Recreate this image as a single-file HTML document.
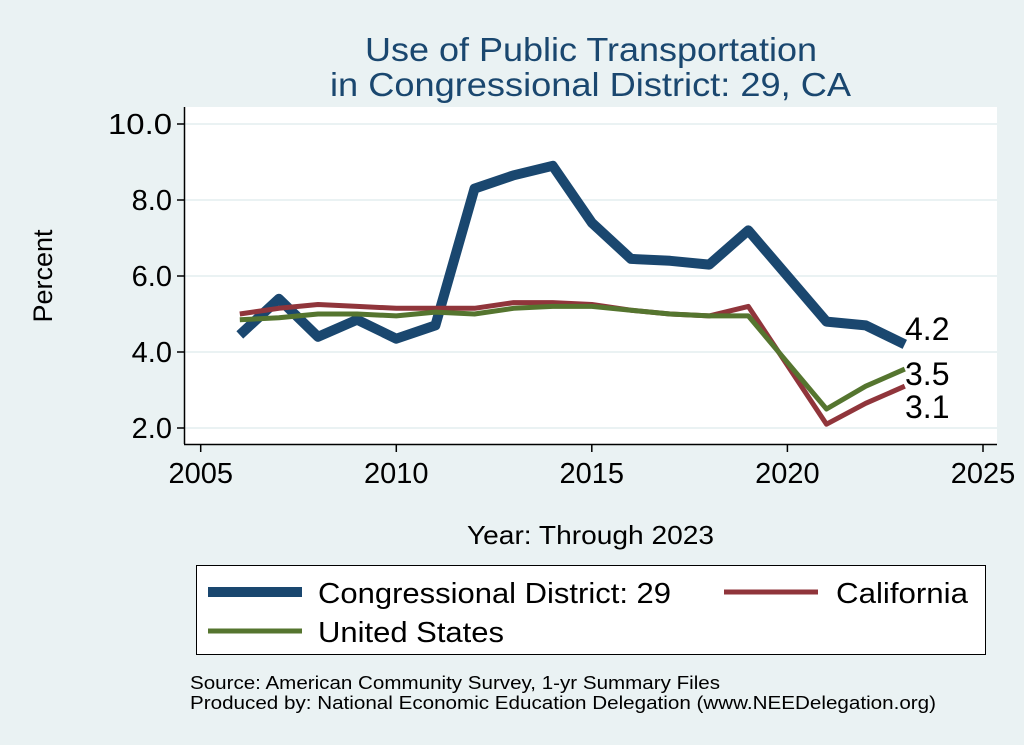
<!DOCTYPE html>
<html><head><meta charset="utf-8"><style>
body{margin:0;background:#eaf2f3;}
svg{display:block;font-family:"Liberation Sans",sans-serif;}
</style></head><body>
<svg width="1024" height="745" viewBox="0 0 1024 745">
<rect width="1024" height="745" fill="#eaf2f3"/>
<text x="365" y="61" font-size="33" fill="#1a476f" textLength="452" lengthAdjust="spacingAndGlyphs">Use of Public Transportation</text>
<text x="330" y="96" font-size="33" fill="#1a476f" textLength="521" lengthAdjust="spacingAndGlyphs">in Congressional District: 29, CA</text>
<rect x="185" y="107" width="812" height="337" fill="#fff"/>
<g stroke="#eaf2f3" stroke-width="2">
<line x1="185" x2="997" y1="124" y2="124"/><line x1="185" x2="997" y1="200" y2="200"/>
<line x1="185" x2="997" y1="276" y2="276"/><line x1="185" x2="997" y1="352" y2="352"/>
<line x1="185" x2="997" y1="428" y2="428"/>
</g>
<g stroke="#000" stroke-width="1.5">
<line x1="184.5" y1="107" x2="184.5" y2="444"/><line x1="184" y1="444.5" x2="997" y2="444.5"/>
<line x1="177" x2="184" y1="124" y2="124"/><line x1="177" x2="184" y1="200" y2="200"/>
<line x1="177" x2="184" y1="276" y2="276"/><line x1="177" x2="184" y1="352" y2="352"/>
<line x1="177" x2="184" y1="428" y2="428"/>
<line x1="200.7" x2="200.7" y1="444" y2="452"/><line x1="396.3" x2="396.3" y1="444" y2="452"/>
<line x1="591.8" x2="591.8" y1="444" y2="452"/><line x1="787.4" x2="787.4" y1="444" y2="452"/>
<line x1="983" x2="983" y1="444" y2="452"/>
</g>
<g font-size="29" text-anchor="end" fill="#000">
<text x="172" y="134" textLength="64" lengthAdjust="spacingAndGlyphs">10.0</text><text x="172" y="210">8.0</text><text x="172" y="286">6.0</text>
<text x="172" y="362">4.0</text><text x="172" y="438">2.0</text>
</g>
<g font-size="29" text-anchor="middle" fill="#000">
<text x="200.7" y="483">2005</text><text x="396.3" y="483">2010</text><text x="591.8" y="483">2015</text>
<text x="787.4" y="483">2020</text><text x="983" y="483">2025</text>
</g>
<text x="52" y="276" font-size="27" text-anchor="middle" transform="rotate(-90 52 276)">Percent</text>
<text x="467" y="544" font-size="26" textLength="247" lengthAdjust="spacingAndGlyphs">Year: Through 2023</text>
<g id="lines" fill="none" stroke-linejoin="round"></g>
<text x="905" y="340" font-size="32">4.2</text>
<text x="905" y="385" font-size="32">3.5</text>
<text x="905" y="418" font-size="32">3.1</text>
<rect x="196.5" y="565.5" width="789" height="89" fill="#fff" stroke="#000" stroke-width="1"/>
<line x1="208" x2="302" y1="592" y2="592" stroke="#1a476f" stroke-width="10"/>
<text x="318" y="603" font-size="29" textLength="353" lengthAdjust="spacingAndGlyphs">Congressional District: 29</text>
<line x1="724" x2="818" y1="592" y2="592" stroke="#90353b" stroke-width="5"/>
<text x="836" y="603" font-size="29" textLength="132" lengthAdjust="spacingAndGlyphs">California</text>
<line x1="208" x2="302" y1="631" y2="631" stroke="#55752f" stroke-width="5"/>
<text x="318" y="642" font-size="29" textLength="186" lengthAdjust="spacingAndGlyphs">United States</text>
<text x="190" y="689" font-size="18" textLength="530" lengthAdjust="spacingAndGlyphs">Source: American Community Survey, 1-yr Summary Files</text>
<text x="190" y="709" font-size="18" textLength="746" lengthAdjust="spacingAndGlyphs">Produced by: National Economic Education Delegation (www.NEEDelegation.org)</text>
</svg>
<script>
var X=function(y){return 200.7+(y-2005)*39.115},Y=function(v){return 428-(v-2)*38};
var yrs=[2006,2007,2008,2009,2010,2011,2012,2013,2014,2015,2016,2017,2018,2019,2021,2022,2023];
var cd=[4.45,5.4,4.4,4.85,4.35,4.7,8.3,8.65,8.9,7.4,6.45,6.4,6.3,7.2,4.8,4.7,4.2];
var ca=[5.0,5.15,5.25,5.2,5.15,5.15,5.15,5.3,5.3,5.25,5.1,5.0,4.95,5.2,2.1,2.65,3.1];
var us=[4.85,4.9,5.0,5.0,4.95,5.05,5.0,5.15,5.2,5.2,5.1,5.0,4.95,4.95,2.5,3.1,3.55];
function pl(d,c,w){var p=yrs.map(function(y,i){return X(y).toFixed(1)+','+Y(d[i]).toFixed(1)}).join(' ');
return '<polyline points="'+p+'" stroke="'+c+'" stroke-width="'+w+'"/>';}
document.getElementById('lines').innerHTML=pl(cd,'#1a476f',10)+pl(ca,'#90353b',5)+pl(us,'#55752f',5);
</script>
</body></html>
